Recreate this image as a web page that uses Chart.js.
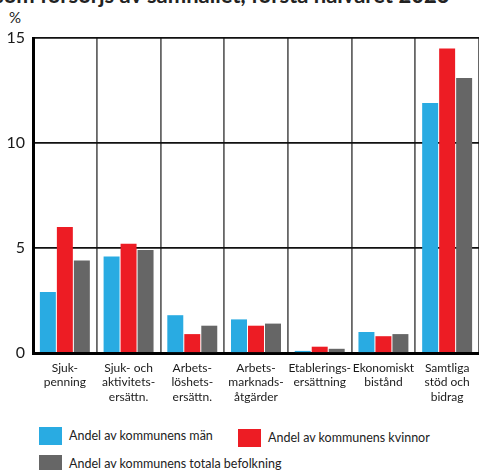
<!DOCTYPE html>
<html>
<head>
<meta charset="utf-8">
<script src="https://cdn.jsdelivr.net/npm/chart.js@4"></script>
<style>
  body { margin: 0; width: 479px; height: 470px; overflow: hidden; background: #fff; font-family: Lato, "Open Sans", sans-serif; color: #222; position: relative; }
  #title { position: absolute; left: -6px; top: -16px; font-size: 22px; font-weight: bold; white-space: nowrap; line-height: 22px; color: #222; }
  #unit { position: absolute; left: 9px; top: 8px; font-size: 15px; }
  #chart { position: absolute; left: 0; top: 0; }
  .leg { position: absolute; font-size: 12.5px; white-space: nowrap; }
  .leg span { position: absolute; width: 23px; height: 18px; left: 0; top: 0; }
  .leg b { position: absolute; left: 30px; top: 1px; font-weight: normal; }
</style>
</head>
<body>
<div id="title">som försörjs av samhället, första halvåret 2023</div>
<div id="unit">%</div>
<canvas id="chart" width="479" height="420"></canvas>
<div id="legend"></div>
<script>
// kategorier och värden (procent)
const categories = [
  ['Sjuk-', 'penning'],
  ['Sjuk- och', 'aktivitets-', 'ersättn.'],
  ['Arbets-', 'löshets-', 'ersättn.'],
  ['Arbets-', 'marknads-', 'åtgärder'],
  ['Etablerings-', 'ersättning'],
  ['Ekonomiskt', 'bistånd'],
  ['Samtliga', 'stöd och', 'bidrag']
];
const man = [2.9, 4.6, 1.8, 1.6, 0.1, 1.0, 11.9];
const kvinnor = [6.0, 5.2, 0.9, 1.3, 0.3, 0.8, 14.5];
const totalt = [4.4, 4.9, 1.3, 1.4, 0.2, 0.9, 13.1];
const yTicks = [0, 5, 10, 15];

const seriesNames = ['Andel av kommunens män', 'Andel av kommunens kvinnor', 'Andel av kommunens totala befolkning'];
const seriesColors = ['#29ABE2', '#ED1C24', '#666666'];

const ctx = document.getElementById('chart').getContext('2d');
const chart = new Chart(ctx, {
  type: 'bar',
  data: {
    labels: categories,
    datasets: [man, kvinnor, totalt].map(function (d, i) {
      return {
        label: seriesNames[i],
        data: d,
        backgroundColor: seriesColors[i],
        categoryPercentage: 0.8,
        barPercentage: 0.94
      };
    })
  },
  options: {
    responsive: false,
    animation: false,
    layout: { padding: { top: 38, right: 0, left: 0, bottom: 0 } },
    plugins: { legend: { display: false }, tooltip: { enabled: false } },
    scales: {
      x: {
        grid: { color: '#666', lineWidth: 1.8, drawTicks: false },
        border: { color: '#000', width: 3 },
        ticks: { color: '#1a1a1a', font: { family: 'Lato', size: 12 }, padding: 8, maxRotation: 0, autoSkip: false },
        afterFit: function (scale) { scale.height = 67; }
      },
      y: {
        min: 0,
        max: 15,
        afterBuildTicks: function (scale) { scale.ticks = yTicks.map(function (v) { return { value: v }; }); },
        grid: { color: '#111', lineWidth: 1.8, drawTicks: false },
        border: { color: '#000', width: 3 },
        ticks: { color: '#1a1a1a', font: { family: 'Lato', size: 16 }, padding: 8 },
        afterFit: function (scale) { scale.width = 33; }
      }
    }
  }
});

// egen förklaring under diagrammet
const legendPos = [[39, 427], [238, 429], [39, 455]];
const legend = document.getElementById('legend');
seriesNames.forEach(function (name, i) {
  const item = document.createElement('div');
  item.className = 'leg';
  item.style.left = legendPos[i][0] + 'px';
  item.style.top = legendPos[i][1] + 'px';
  item.innerHTML = '<span style="background:' + seriesColors[i] + '"></span><b>' + name + '</b>';
  legend.appendChild(item);
});
</script>
</body>
</html>
